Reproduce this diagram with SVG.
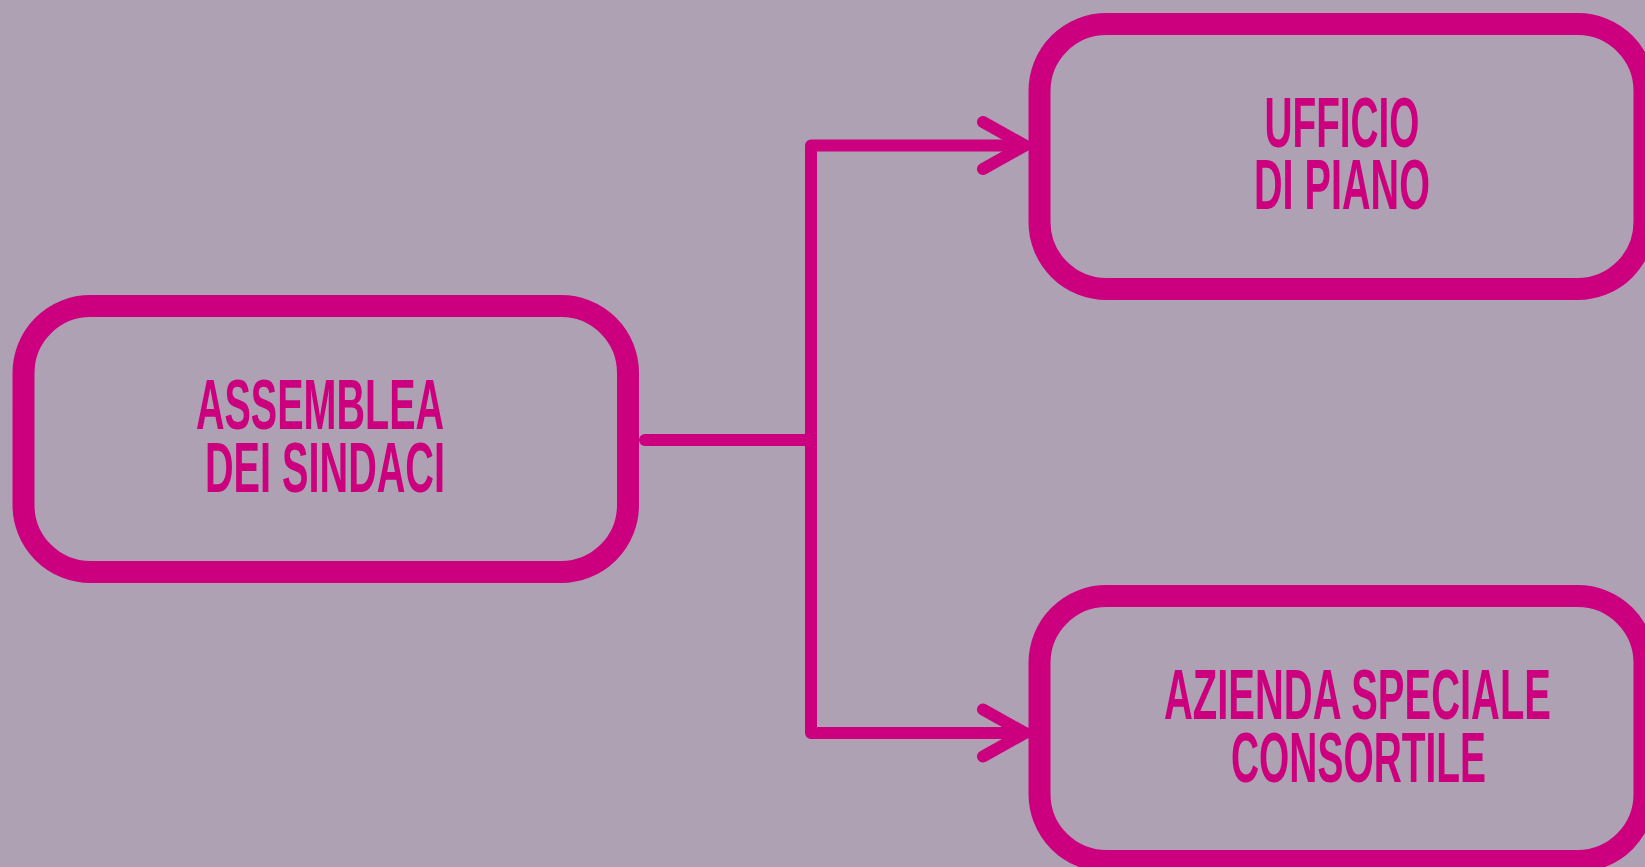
<svg xmlns="http://www.w3.org/2000/svg" width="1645" height="867" viewBox="0 0 1645 867">
  <style>
    .box { fill: none; stroke: #cc007e; stroke-width: 22; }
    .conn { fill: none; stroke: #cc007e; stroke-width: 12; stroke-linecap: round; stroke-linejoin: round; }
    .lbl { font-family: "Liberation Sans", "DejaVu Sans Condensed", sans-serif; font-weight: bold; font-size: 70px; fill: #cc007e; }
  </style>
  <defs>
    <marker id="arr" markerUnits="userSpaceOnUse" viewBox="-60 -40 80 80" markerWidth="80" markerHeight="80" refX="0" refY="0" orient="auto" overflow="visible">
      <path d="M -42 -23.5 L 0 0 L -42 23.5" fill="none" stroke="#cc007e" stroke-width="12" stroke-linecap="round" stroke-linejoin="round"/>
    </marker>
  </defs>
  <rect width="1645" height="867" fill="#aea1b4"/>
  <g id="connectors">
    <path class="conn" d="M 645 440 H 811"/>
    <path class="conn" d="M 811 440 V 145.5 H 1025" marker-end="url(#arr)"/>
    <path class="conn" d="M 811 440 V 733 H 1025" marker-end="url(#arr)"/>
  </g>
  <g id="assemblea">
    <rect class="box" x="23.5" y="306" width="604.5" height="266" rx="67" ry="67"/>
    <text class="lbl" x="196" y="429" textLength="248" lengthAdjust="spacingAndGlyphs">ASSEMBLEA</text>
    <text class="lbl" x="205" y="492" textLength="240" lengthAdjust="spacingAndGlyphs">DEI SINDACI</text>
  </g>
  <g id="ufficio">
    <rect class="box" x="1039.5" y="24" width="605" height="265" rx="67" ry="67"/>
    <text class="lbl" x="1264.5" y="147" textLength="155" lengthAdjust="spacingAndGlyphs">UFFICIO</text>
    <text class="lbl" x="1254" y="209" textLength="176" lengthAdjust="spacingAndGlyphs">DI PIANO</text>
  </g>
  <g id="azienda">
    <rect class="box" x="1039.5" y="596" width="605" height="265" rx="67" ry="67"/>
    <text class="lbl" x="1164" y="719" textLength="387" lengthAdjust="spacingAndGlyphs">AZIENDA SPECIALE</text>
    <text class="lbl" x="1231" y="782" textLength="255" lengthAdjust="spacingAndGlyphs">CONSORTILE</text>
  </g>
</svg>
